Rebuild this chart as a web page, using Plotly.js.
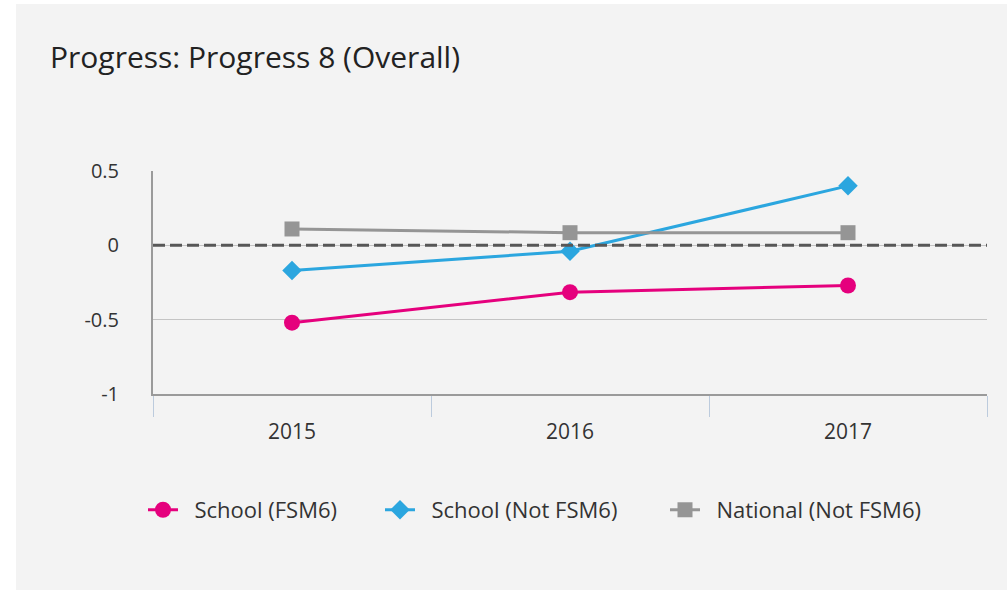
<!DOCTYPE html>
<html>
<head>
<meta charset="utf-8">
<script src="https://cdn.plot.ly/plotly-3.0.1.min.js"></script>
<style>
html,body{margin:0;padding:0;background:#ffffff;}
#chart{position:absolute;left:16px;top:4px;width:991px;height:586px;}
</style>
</head>
<body>
<div id="chart"></div>
<script>
const years = ["2015", "2016", "2017"];
const schoolFSM6 = [-0.52, -0.315, -0.27];
const schoolNotFSM6 = [-0.17, -0.04, 0.40];
const nationalNotFSM6 = [0.11, 0.085, 0.085];
const seriesNames = ["School (FSM6)", "School (Not FSM6)", "National (Not FSM6)"];
const yTickVals = [0.5, 0, -0.5, -1];
const yTickText = ["0.5", "0", "-0.5", "-1"];

const FONT = "'Open Sans', Lato, sans-serif";
const PAD = "\u00a0\u00a0";

const traces = [
  {x: years, y: schoolFSM6, name: PAD + seriesNames[0], type: "scatter", mode: "lines+markers", legend: "legend",
   line: {color: "#e5007d", width: 3}, marker: {symbol: "circle", size: 16, color: "#e5007d"}},
  {x: years, y: schoolNotFSM6, name: PAD + seriesNames[1], type: "scatter", mode: "lines+markers", legend: "legend2",
   line: {color: "#2ba6df", width: 3}, marker: {symbol: "diamond", size: 15, color: "#2ba6df"}},
  {x: years, y: nationalNotFSM6, name: PAD + seriesNames[2], type: "scatter", mode: "lines+markers", legend: "legend3",
   line: {color: "#959595", width: 3}, marker: {symbol: "square", size: 15, color: "#959595"}}
];

function legendAt(px) {
  return {orientation: "h", x: (px - 153) / 834, xanchor: "left", y: -0.52, yanchor: "middle",
          font: {size: 22, color: "#333333", family: FONT}, bgcolor: "rgba(0,0,0,0)"};
}

const layout = {
  paper_bgcolor: "#f3f3f3",
  plot_bgcolor: "#f3f3f3",
  margin: {l: 137, r: 20, t: 167, b: 196},
  font: {family: FONT, color: "#333333"},
  title: {text: "Progress: Progress 8 (Overall)", x: 34/991, xanchor: "left", y: 1 - 53/586, yanchor: "middle",
          font: {size: 30, color: "#222222", family: FONT}},
  showlegend: true,
  legend: legendAt(143),
  legend2: legendAt(380),
  legend3: legendAt(665),
  xaxis: {type: "category", range: [-0.5, 2.5], tickson: "boundaries", ticks: "outside", ticklen: 21,
          tickcolor: "#bccbdd", tickwidth: 1, showgrid: false, showline: true, linecolor: "#9a9a9a", linewidth: 2,
          ticklabelstandoff: 18,
          tickfont: {size: 21, color: "#333333", family: FONT}, fixedrange: true},
  yaxis: {range: [-1, 0.5], tickvals: yTickVals, ticktext: yTickText, showgrid: true, gridcolor: "#c4c4c4", gridwidth: 1,
          zeroline: false, showline: true, linecolor: "#9a9a9a", linewidth: 2, ticks: "", ticklabelstandoff: 28,
          tickfont: {size: 20, color: "#333333", family: FONT}, fixedrange: true},
  shapes: [
    {type: "line", xref: "paper", yref: "y", x0: 0, x1: 1, y0: 0, y1: 0,
     line: {color: "#575757", width: 3, dash: "12px,5px"}, layer: "above"}
  ]
};

Plotly.newPlot("chart", traces, layout, {displayModeBar: false, staticPlot: true});
</script>
</body>
</html>
